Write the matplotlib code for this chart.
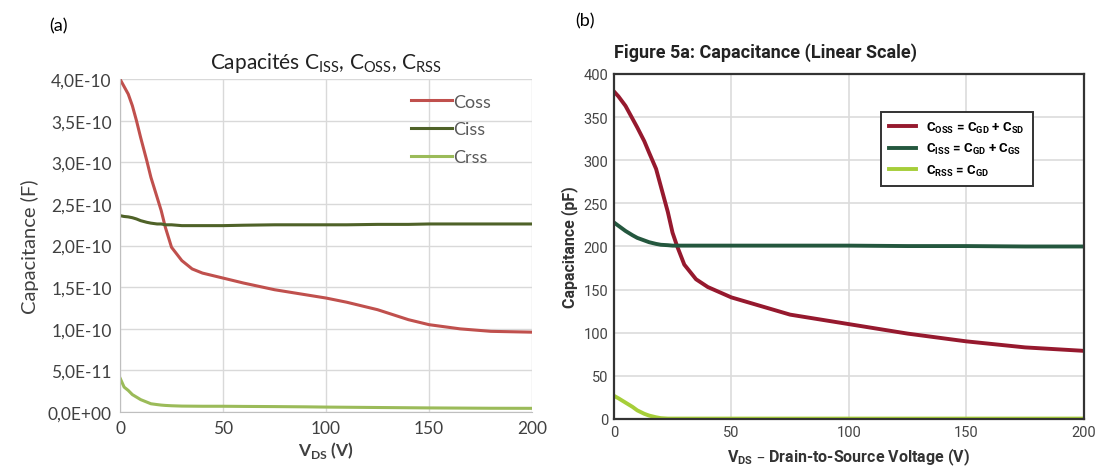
import matplotlib.pyplot as plt

# panel (a) : simulated capacitances, in units of 1e-10 F
vds_a = [0, 2, 4, 6, 8, 10, 13, 15, 18, 20, 22, 25, 30, 35, 40, 50, 60, 75, 90, 100, 110, 125, 140, 150, 165, 180, 200]
coss_a = [4.0, 3.91, 3.82, 3.68, 3.5, 3.3, 3.02, 2.82, 2.58, 2.42, 2.22, 1.98, 1.82, 1.72, 1.67, 1.61, 1.55, 1.47, 1.41, 1.37, 1.32, 1.23, 1.11, 1.05, 1.0, 0.97, 0.96]
ciss_a = [2.36, 2.35, 2.345, 2.335, 2.32, 2.30, 2.28, 2.27, 2.26, 2.26, 2.25, 2.25, 2.24, 2.24, 2.24, 2.24, 2.245, 2.25, 2.25, 2.25, 2.25, 2.255, 2.255, 2.26, 2.26, 2.26, 2.26]
crss_a = [0.41, 0.30, 0.26, 0.21, 0.18, 0.15, 0.12, 0.10, 0.09, 0.084, 0.08, 0.076, 0.072, 0.071, 0.07, 0.07, 0.068, 0.066, 0.063, 0.06, 0.058, 0.055, 0.052, 0.05, 0.048, 0.046, 0.045]

# panel (b) : datasheet curves, pF
vds_b = [0, 2, 5, 8, 10, 13, 15, 18, 20, 23, 25, 27, 30, 35, 40, 50, 60, 75, 100, 125, 150, 175, 200]
coss_b = [380, 374, 363, 348, 338, 322, 309, 290, 270, 240, 216, 200, 179, 162, 153, 141, 133, 121, 110, 99, 90, 83, 79]
ciss_b = [228, 224, 218, 213, 210, 207, 205, 203, 202, 201.5, 201, 201, 201, 201, 201, 201, 201, 201, 201, 200.5, 200.5, 200, 200]
crss_b = [27, 24, 19, 14, 10, 6, 4, 2, 1, 0.5, 0.5, 0.5, 0.5, 0.5, 0.5, 0.5, 0.5, 0.5, 0.5, 0.5, 0.5, 0.5, 0.5]

ticks_x = [0, 50, 100, 150, 200]
ticks_a = [0, 0.5, 1.0, 1.5, 2.0, 2.5, 3.0, 3.5, 4.0]
labels_a = ['0,0E+00', '5,0E-11', '1,0E-10', '1,5E-10', '2,0E-10', '2,5E-10', '3,0E-10', '3,5E-10', '4,0E-10']
ticks_b = [0, 50, 100, 150, 200, 250, 300, 350, 400]

fig = plt.figure(figsize=(10.96, 4.77), dpi=100)

# ---- (a)
fa = ['Lato', 'DejaVu Sans']
ax = fig.add_axes([0.1095, 0.134, 0.376, 0.698])
ax.plot(vds_a, coss_a, color='#C0504D', lw=2.2, label='Coss')
ax.plot(vds_a, ciss_a, color='#4F6228', lw=2.2, label='Ciss')
ax.plot(vds_a, crss_a, color='#9BBB59', lw=2.2, label='Crss')
ax.set_xlim(0, 200)
ax.set_ylim(0, 4.0)
ax.set_xticks(ticks_x)
ax.set_yticks(ticks_a)
ax.set_yticklabels(labels_a)
ax.grid(True, color='#d9d9d9', lw=1)
ax.set_axisbelow(True)
for s in ['top', 'right']:
    ax.spines[s].set_visible(False)
for s in ['left', 'bottom']:
    ax.spines[s].set_color('#bfbfbf')
ax.tick_params(length=0, labelsize=12.5, colors='#404040', pad=6)
for t in ax.get_xticklabels() + ax.get_yticklabels():
    t.set_family(fa)
ax.set_ylabel('Capacitance (F)', fontsize=14.5, family=fa, color='#404040', labelpad=6)
ax.set_xlabel(r'V$_{\mathregular{DS}}$ (V)', fontsize=12.5, family=fa, fontweight='bold', color='#404040', labelpad=2)
ax.set_title(r'Capacités C$_{\mathregular{ISS}}$, C$_{\mathregular{OSS}}$, C$_{\mathregular{RSS}}$',
             fontsize=15, family=fa, color='#222222', pad=8)
leg = ax.legend(loc='upper right', bbox_to_anchor=(0.94, 1.005), frameon=False, handlelength=2.3,
                handletextpad=0.05, labelspacing=0.65, prop={'family': fa, 'size': 13})
for t in leg.get_texts():
    t.set_color('#595959')
fig.text(0.045, 0.935, '(a)', fontsize=13, family=fa)

# ---- (b)
fb = ['Roboto', 'DejaVu Sans']
bx = fig.add_axes([0.560, 0.1195, 0.429, 0.7233])
bx.plot(vds_b, coss_b, color='#96192E', lw=2.8, label=r'C$_{\mathregular{OSS}}$ = C$_{\mathregular{GD}}$ + C$_{\mathregular{SD}}$')
bx.plot(vds_b, ciss_b, color='#24573E', lw=2.8, label=r'C$_{\mathregular{ISS}}$ = C$_{\mathregular{GD}}$ + C$_{\mathregular{GS}}$')
bx.plot(vds_b, crss_b, color='#A6CE39', lw=2.8, label=r'C$_{\mathregular{RSS}}$ = C$_{\mathregular{GD}}$')
bx.set_xlim(0, 200)
bx.set_ylim(0, 400)
bx.set_xticks(ticks_x)
bx.set_yticks(ticks_b)
bx.grid(True, color='#dcdcdc', lw=1.2)
bx.set_axisbelow(True)
for s in bx.spines.values():
    s.set_color('#333333')
    s.set_linewidth(1.6)
bx.tick_params(length=0, labelsize=10.5, colors='#444444', pad=4)
for t in bx.get_xticklabels() + bx.get_yticklabels():
    t.set_family(fb)
bx.set_ylabel('Capacitance (pF)', fontsize=11.5, family=fb, fontweight='bold', color='#333333', labelpad=4)
bx.set_xlabel(r'V$_{\mathregular{DS}}$ – Drain-to-Source Voltage (V)', fontsize=11.5, family=fb,
              fontweight='bold', color='#333333', labelpad=5)
bx.set_title('Figure 5a: Capacitance (Linear Scale)', fontsize=13, family=fb, fontweight='bold',
             color='#222222', loc='left', pad=12)
leg2 = bx.legend(loc='upper right', bbox_to_anchor=(0.905, 0.91), fancybox=False, framealpha=1,
                 edgecolor='#333333', handlelength=2.0, labelspacing=0.5, borderpad=0.6,
                 prop={'family': fb, 'size': 9.5, 'weight': 'bold'})
leg2.get_frame().set_linewidth(1.4)
fig.text(0.525, 0.945, '(b)', fontsize=13, family=fa)

fig.savefig('out.png', dpi=100)
